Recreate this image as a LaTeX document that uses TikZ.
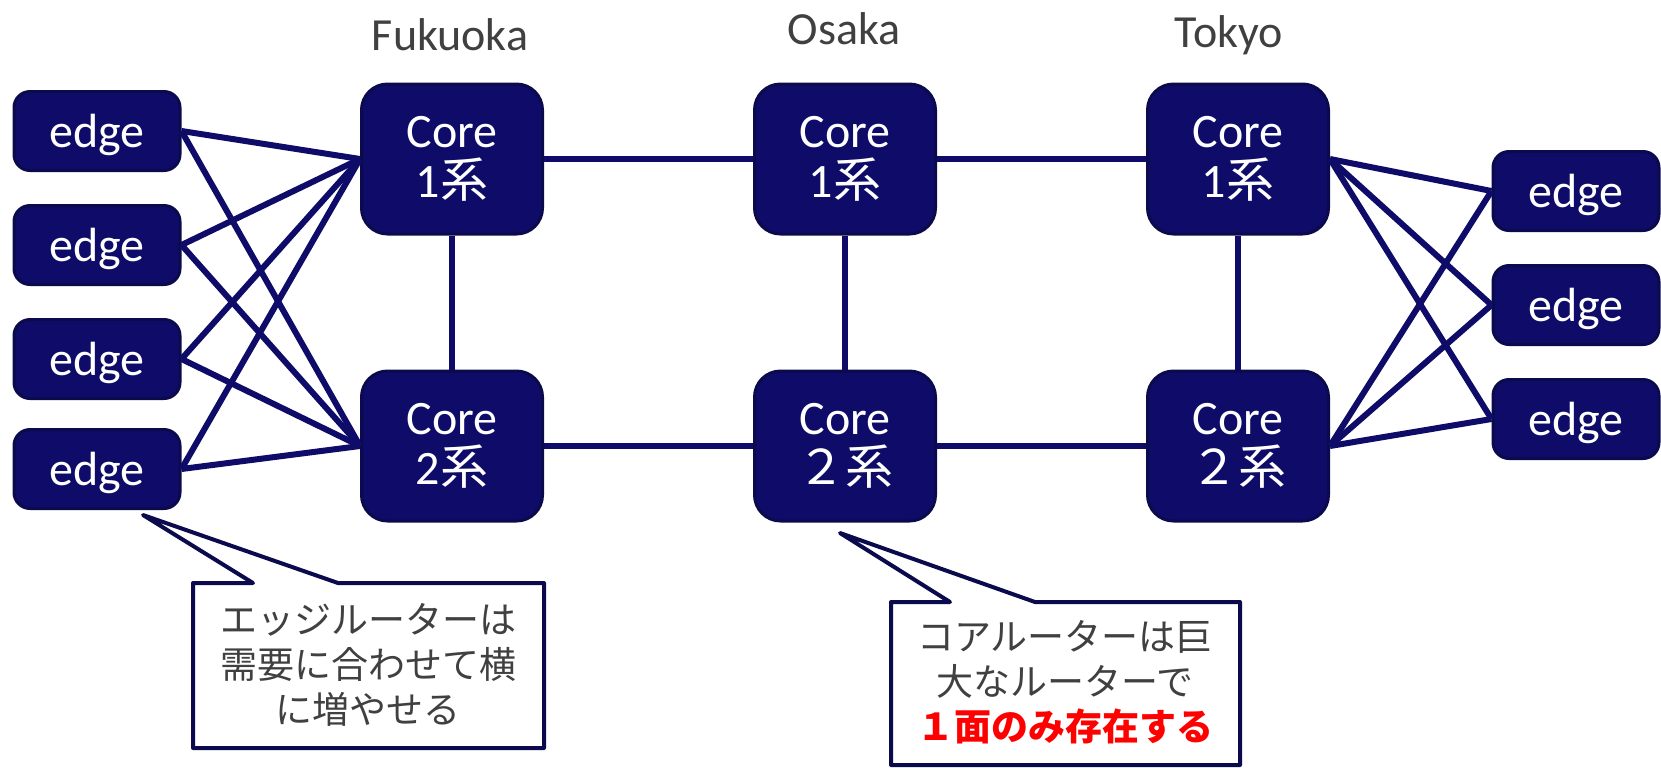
\documentclass[tikz,border=0pt]{standalone}
\usepackage{fontspec}
\setmainfont{Carlito}
\newfontfamily\jp{Noto Sans CJK JP}
\definecolor{navy}{HTML}{0E0C68}
\definecolor{navyd}{HTML}{0A0A4C}
\definecolor{txtgray}{HTML}{404040}
\definecolor{hired}{HTML}{FF0000}
\tikzset{
  edgebox/.style={draw=navyd, fill=navy, line width=1.5pt, rounded corners=8pt,
    minimum width=83pt, minimum height=39.5pt, text=white, inner sep=0pt,
    text height=19.5pt, text depth=3pt,
    font=\fontsize{24}{25}\selectfont},
  corebox/.style={draw=navyd, fill=navy, line width=1.5pt, rounded corners=13pt,
    minimum width=90.5pt, minimum height=75pt, text=white, inner sep=0pt, align=center,
    font=\fontsize{24}{25}\selectfont},
  citylabel/.style={text=txtgray, font=\fontsize{23}{26}\selectfont},
  link/.style={draw=navy, line width=3pt},
  callout/.style={draw=navyd, fill=white, line width=2pt, line join=round},
  callouttext/.style={text=txtgray, align=center, font=\jp\fontsize{18.5}{22.5}\selectfont}
}
\begin{document}
\begin{tikzpicture}[x=0.5pt,y=-0.5pt]
\useasboundingbox (0,0) rectangle (1661,767);
% labels
\node[citylabel] (lf) at (450,35) {Fukuoka};
\node[citylabel] (lo) at (844,29) {Osaka};
\node[citylabel] (lt) at (1229,35) {Tokyo};
% left edges
\node[edgebox] (e1) at (97,131) {edge};
\node[edgebox] (e2) at (97,245) {edge};
\node[edgebox] (e3) at (97,359) {edge};
\node[edgebox] (e4) at (97,469) {edge};
% cores
\node[corebox] (f1) at (452,159) {Core\\1{\jp 系}};
\node[corebox] (f2) at (452,446) {Core\\2{\jp 系}};
\node[corebox] (o1) at (845,159) {Core\\1{\jp 系}};
\node[corebox] (o2) at (845,446) {Core\\{\jp ２系}};
\node[corebox] (t1) at (1238,159) {Core\\1{\jp 系}};
\node[corebox] (t2) at (1238,446) {Core\\{\jp ２系}};
% right edges
\node[edgebox] (r1) at (1576,191) {edge};
\node[edgebox] (r2) at (1576,305) {edge};
\node[edgebox] (r3) at (1576,419) {edge};
% connectors
\foreach \e in {e1,e2,e3,e4}{
  \draw[link] (\e.east) -- (f1.west);
  \draw[link] (\e.east) -- (f2.west);
}
\foreach \r in {r1,r2,r3}{
  \draw[link] (t1.east) -- (\r.west);
  \draw[link] (t2.east) -- (\r.west);
}
\draw[link] (f1.east) -- (o1.west);
\draw[link] (o1.east) -- (t1.west);
\draw[link] (f2.east) -- (o2.west);
\draw[link] (o2.east) -- (t2.west);
\draw[link] (f1.south) -- (f2.north);
\draw[link] (o1.south) -- (o2.north);
\draw[link] (t1.south) -- (t2.north);
% callout 1
\coordinate (a1) at (143,515);
\draw[callout] (193,583) -- (253,583) -- (a1) -- (338,583) -- (544,583) -- (544,748) -- (193,748) -- cycle;
\node[callouttext] (ct1) at (368,665) {エッジルーターは\\需要に合わせて横\\に増やせる};
% callout 2
\coordinate (a2) at (840,533);
\draw[callout] (891,602) -- (950,602) -- (a2) -- (1035,602) -- (1240,602) -- (1240,765) -- (891,765) -- cycle;
\node[callouttext] (ct2) at (1065,682) {コアルーターは巨\\大なルーターで\\{\color{hired}\bfseries １面のみ存在する}};
\end{tikzpicture}
\end{document}
